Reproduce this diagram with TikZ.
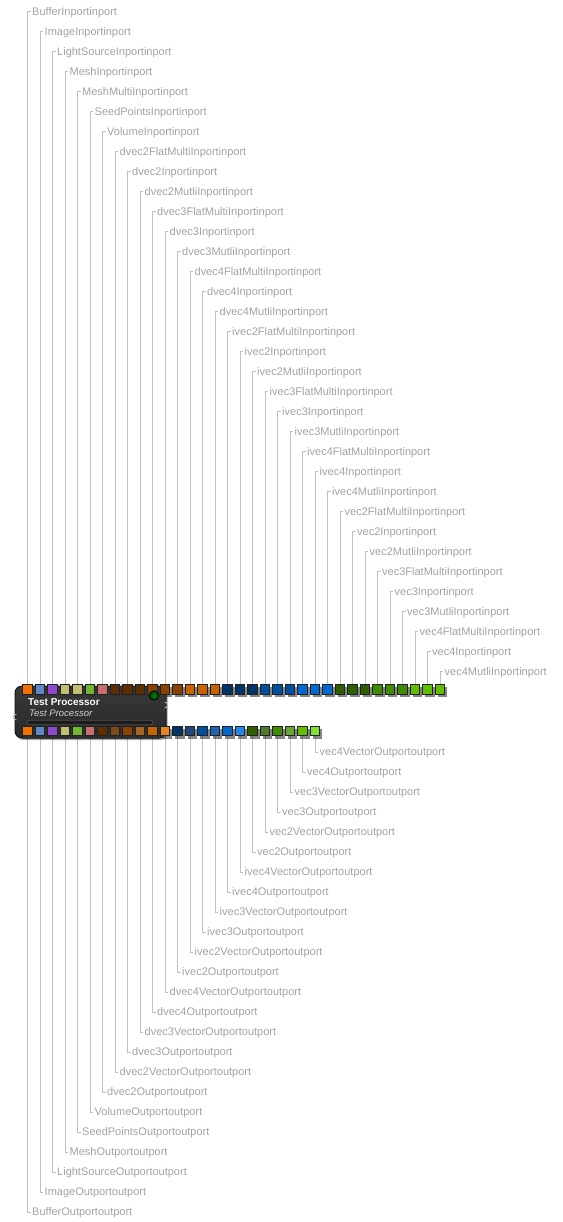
\documentclass[tikz,border=0pt]{standalone}
\usepackage{fontspec}
\setmainfont{Liberation Sans}
\usetikzlibrary{shadows}

% port colours
\definecolor{cBuf}{HTML}{F07000}
\definecolor{cImg}{HTML}{6088C8}
\definecolor{cLight}{HTML}{9048D0}
\definecolor{cMesh}{HTML}{C0C070}
\definecolor{cSeed}{HTML}{70B830}
\definecolor{cVol}{HTML}{C86C6C}
\definecolor{cDvTwo}{HTML}{5C2E00}
\definecolor{cDvThree}{HTML}{8A4200}
\definecolor{cDvFour}{HTML}{C86400}
\definecolor{cIvTwo}{HTML}{003366}
\definecolor{cIvThree}{HTML}{0050A0}
\definecolor{cIvFour}{HTML}{0068D0}
\definecolor{cVTwo}{HTML}{2E5E00}
\definecolor{cVThree}{HTML}{408C00}
\definecolor{cVFour}{HTML}{60C000}
\definecolor{cDvTwoV}{HTML}{7C4C1E}
\definecolor{cDvThreeV}{HTML}{A8641E}
\definecolor{cDvFourV}{HTML}{E48424}
\definecolor{cIvTwoV}{HTML}{1E4A80}
\definecolor{cIvThreeV}{HTML}{2064B0}
\definecolor{cIvFourV}{HTML}{2888E8}
\definecolor{cVTwoV}{HTML}{4C7C28}
\definecolor{cVThreeV}{HTML}{64A830}
\definecolor{cVFourV}{HTML}{84E030}
% chrome
\definecolor{labelgray}{HTML}{A2A2A2}
\definecolor{wiregray}{HTML}{C0C0C0}
\definecolor{portedge}{HTML}{222222}
\definecolor{procA}{HTML}{3A3A3A}
\definecolor{procB}{HTML}{282828}
\definecolor{procEdge}{HTML}{181818}
\definecolor{subtext}{HTML}{D0D0D0}
\definecolor{barfill}{HTML}{1C1C1C}
\definecolor{baredge}{HTML}{4E4E4E}
\definecolor{linkgray}{HTML}{B0B0B0}

\pgfdeclarelayer{wires}
\pgfsetlayers{wires,main}

\begin{document}
\begin{tikzpicture}[x=1pt,y=-1pt,
  portsq/.style={rectangle, minimum size=9.4pt, inner sep=0pt, draw=portedge,
    line width=1pt, fill=#1,
    drop shadow={shadow xshift=2.6pt, shadow yshift=-2.6pt, opacity=.6, fill=black!80}},
  lblbase/.style={anchor=west, inner xsep=1.5pt, inner ysep=0pt, text=labelgray,
    font=\fontsize{11}{13}\selectfont},
  lblin/.style={lblbase, text height=9.5pt, text depth=2pt},
  lblout/.style={lblbase, text height=7.5pt, text depth=2.5pt},
  wire/.style={draw=wiregray, line width=1pt}]

\useasboundingbox (0,0) rectangle (562,1222);

% processor body
\node[rectangle, rounded corners=7pt, minimum width=151pt, minimum height=52pt,
  inner sep=0pt, draw=procEdge, line width=1pt, top color=procA, bottom color=procB,
  drop shadow={shadow xshift=1.5pt, shadow yshift=-2pt, opacity=.35, fill=black}]
  (proc) at (90.5,712) {};
\node[anchor=base west, inner sep=0pt, text=white,
  font=\bfseries\fontsize{10}{12}\selectfont] (ptitle) at (28,705) {Test Processor};
\node[anchor=base west, inner sep=0pt, text=subtext,
  font=\itshape\fontsize{9.5}{11}\selectfont] (psub) at (29,716.5) {Test Processor};
\node[rectangle, rounded corners=2.2pt, minimum width=126pt, minimum height=4.5pt,
  inner sep=0pt, draw=baredge, line width=.8pt, fill=barfill] (pbar) at (90,722.5) {};
% link connectors on the sides
\draw[linkgray, line width=.9pt] (16.5,714) arc[start angle=90, end angle=270, radius=3pt];
\draw[linkgray, line width=.9pt] (164.5,708) arc[start angle=-90, end angle=90, radius=3pt];

% inports
\foreach [count=\i] \lab/\col in {
  BufferInportinport/cBuf, ImageInportinport/cImg, LightSourceInportinport/cLight,
  MeshInportinport/cMesh, MeshMultiInportinport/cMesh, SeedPointsInportinport/cSeed,
  VolumeInportinport/cVol,
  dvec2FlatMultiInportinport/cDvTwo, dvec2Inportinport/cDvTwo, dvec2MutliInportinport/cDvTwo,
  dvec3FlatMultiInportinport/cDvThree, dvec3Inportinport/cDvThree, dvec3MutliInportinport/cDvThree,
  dvec4FlatMultiInportinport/cDvFour, dvec4Inportinport/cDvFour, dvec4MutliInportinport/cDvFour,
  ivec2FlatMultiInportinport/cIvTwo, ivec2Inportinport/cIvTwo, ivec2MutliInportinport/cIvTwo,
  ivec3FlatMultiInportinport/cIvThree, ivec3Inportinport/cIvThree, ivec3MutliInportinport/cIvThree,
  ivec4FlatMultiInportinport/cIvFour, ivec4Inportinport/cIvFour, ivec4MutliInportinport/cIvFour,
  vec2FlatMultiInportinport/cVTwo, vec2Inportinport/cVTwo, vec2MutliInportinport/cVTwo,
  vec3FlatMultiInportinport/cVThree, vec3Inportinport/cVThree, vec3MutliInportinport/cVThree,
  vec4FlatMultiInportinport/cVFour, vec4Inportinport/cVFour, vec4MutliInportinport/cVFour} {
  \pgfmathsetmacro\px{27.5+12.5*(\i-1)}
  \pgfmathsetmacro\ly{11.95+20*(\i-1)}
  \node[portsq=\col] (ip\i) at (\px,689.5) {};
  \node[lblin] (il\i) at (\px+3,\ly) {\lab};
}

% outports
\foreach [count=\i] \lab/\col in {
  BufferOutportoutport/cBuf, ImageOutportoutport/cImg, LightSourceOutportoutport/cLight,
  MeshOutportoutport/cMesh, SeedPointsOutportoutport/cSeed, VolumeOutportoutport/cVol,
  dvec2Outportoutport/cDvTwo, dvec2VectorOutportoutport/cDvTwoV,
  dvec3Outportoutport/cDvThree, dvec3VectorOutportoutport/cDvThreeV,
  dvec4Outportoutport/cDvFour, dvec4VectorOutportoutport/cDvFourV,
  ivec2Outportoutport/cIvTwo, ivec2VectorOutportoutport/cIvTwoV,
  ivec3Outportoutport/cIvThree, ivec3VectorOutportoutport/cIvThreeV,
  ivec4Outportoutport/cIvFour, ivec4VectorOutportoutport/cIvFourV,
  vec2Outportoutport/cVTwo, vec2VectorOutportoutport/cVTwoV,
  vec3Outportoutport/cVThree, vec3VectorOutportoutport/cVThreeV,
  vec4Outportoutport/cVFour, vec4VectorOutportoutport/cVFourV} {
  \pgfmathsetmacro\px{27.5+12.5*(\i-1)}
  \pgfmathsetmacro\ly{1212.5-20*(\i-1)}
  \node[portsq=\col] (op\i) at (\px,731.2) {};
  \node[lblout] (ol\i) at (\px+3,\ly) {\lab};
}

% status light, in front of the port row
\node[circle, minimum size=9.5pt, inner sep=0pt, draw=black, line width=.8pt,
  inner color=green!55!black, outer color=green!22!black] (pled) at (154,695.5) {};

% connectors from ports to their labels
\begin{pgfonlayer}{wires}
  \foreach \i in {1,...,34} \draw[wire] (ip\i.north) |- (il\i.west);
  \foreach \i in {1,...,24} \draw[wire] (op\i.south) |- (ol\i.west);
\end{pgfonlayer}
\end{tikzpicture}
\end{document}
